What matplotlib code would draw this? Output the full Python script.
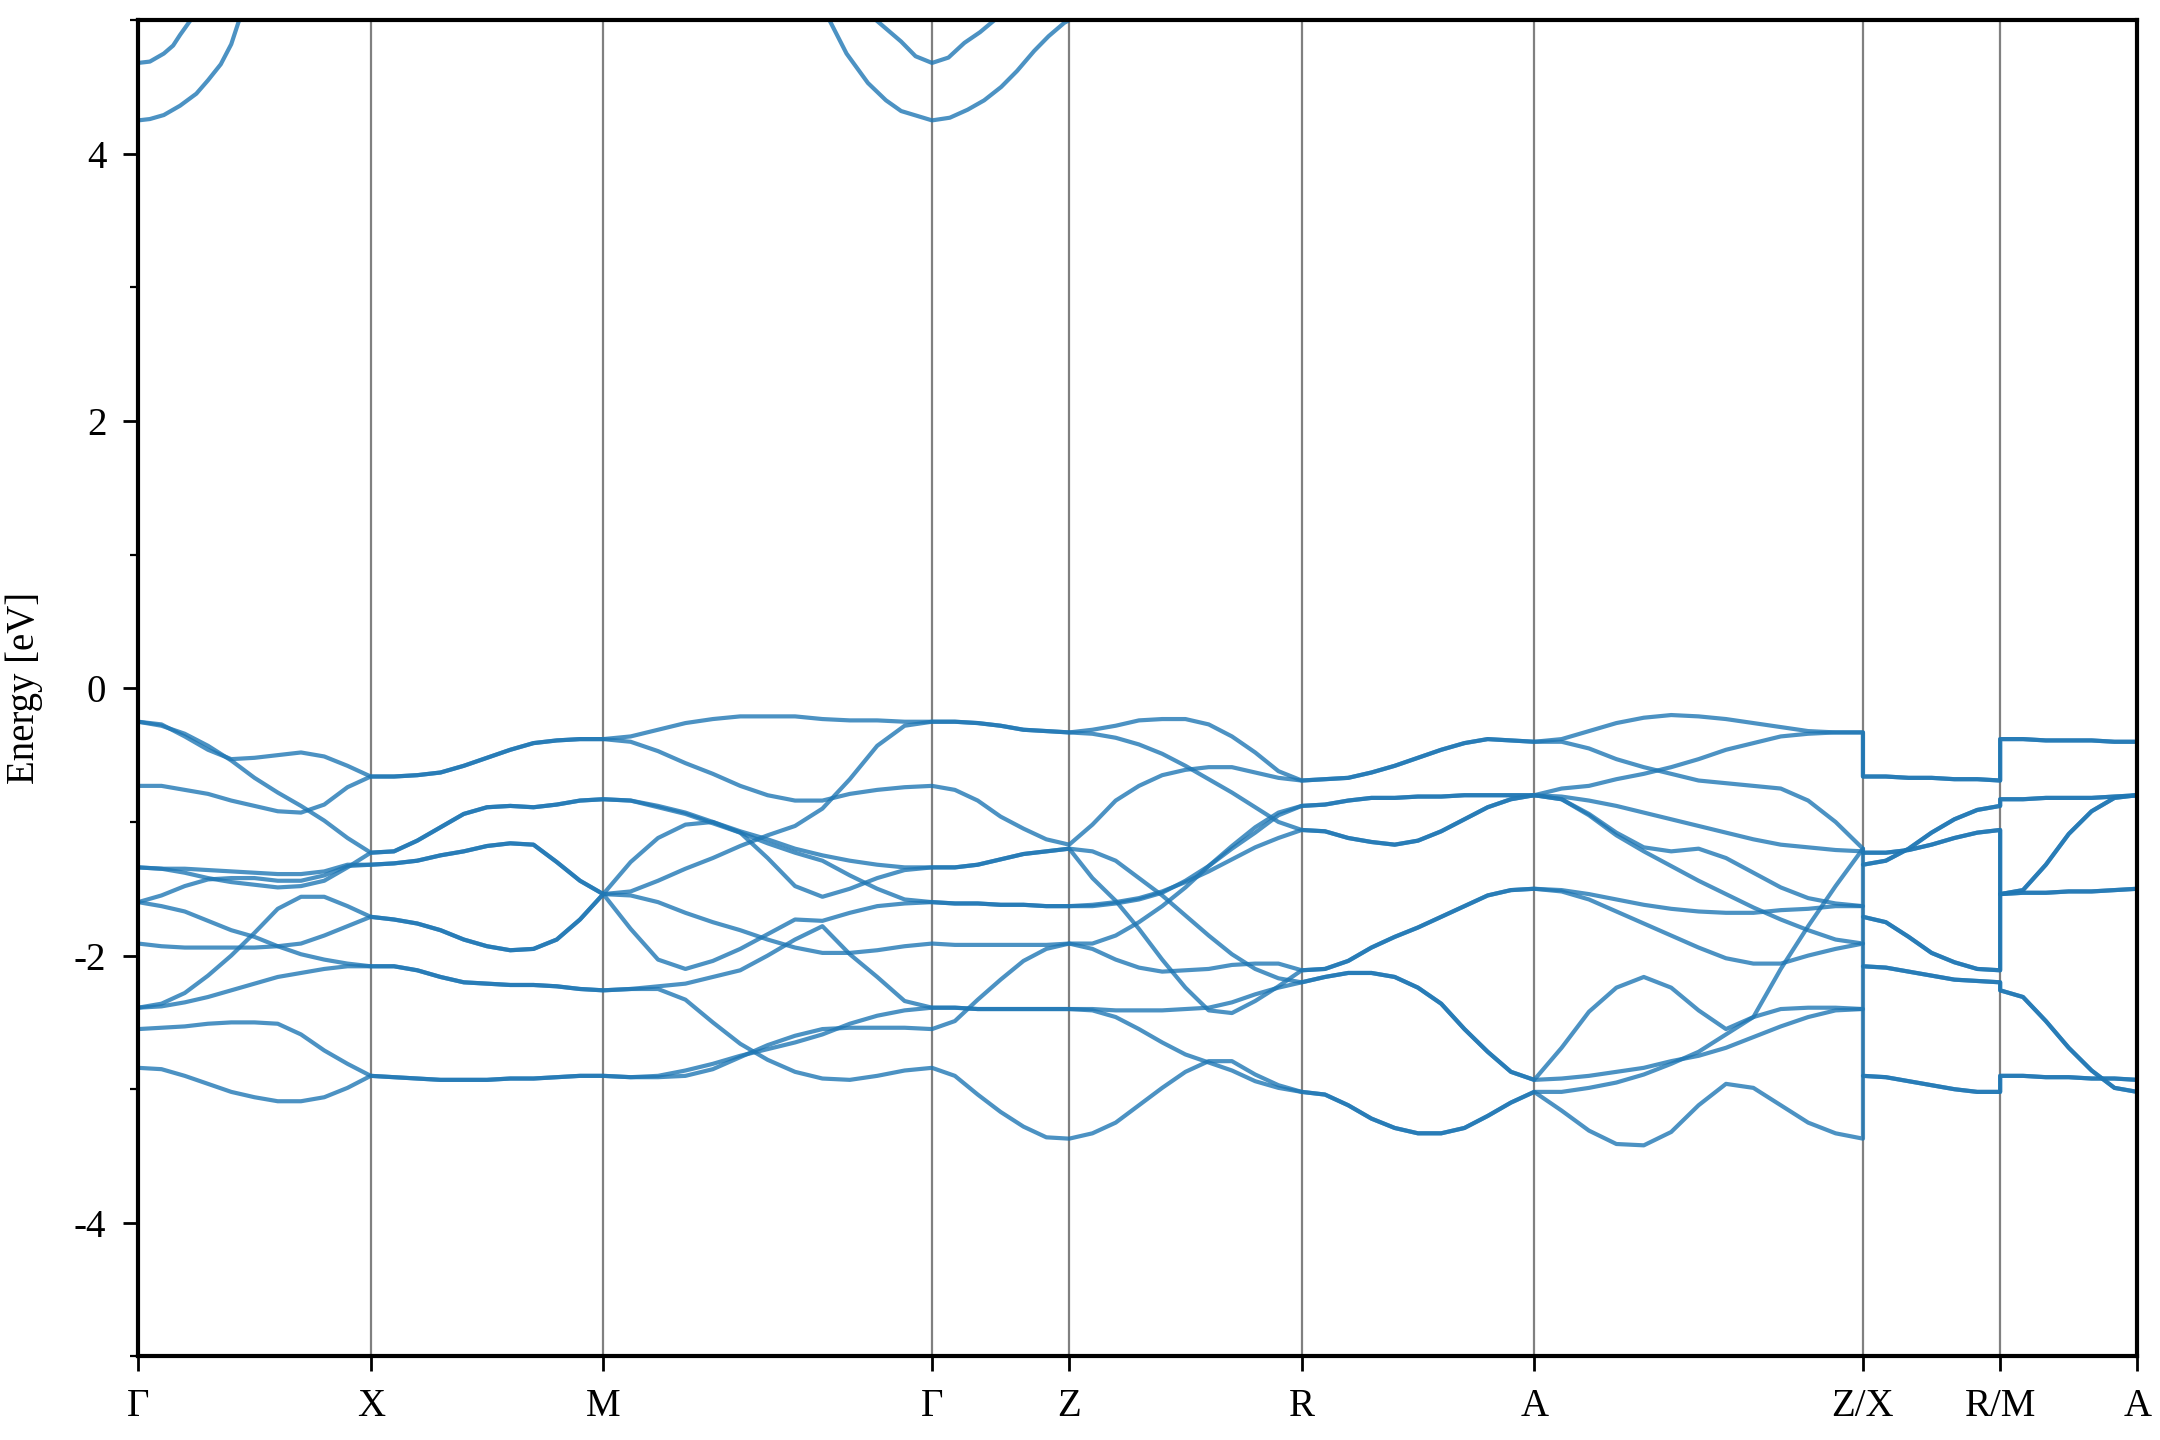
import numpy as np
import matplotlib.pyplot as plt
from matplotlib.ticker import MultipleLocator

plt.rcParams['font.family'] = ['Liberation Serif', 'DejaVu Serif']
plt.rcParams['axes.unicode_minus'] = False

# high-symmetry path
kpt_labels = ['Γ', 'X', 'M', 'Γ', 'Z', 'R', 'A', 'Z/X', 'R/M', 'A']
seg_length = [1.0, 1.0, 1.414, 0.59, 1.0, 1.0, 1.414, 0.59, 0.59]
jump_segments = [7, 8]          # X-R and M-A start after a break in the path
degenerate = {1: 2, 5: 2, 7: 2, 8: 2}   # segments where every line is doubly degenerate

# valence bands (eV), sampled evenly along each segment
e_GX = [
    [-0.25, -0.27, -0.36, -0.46, -0.53, -0.52, -0.50, -0.48, -0.51, -0.58, -0.66],
    [-0.25, -0.28, -0.34, -0.43, -0.54, -0.67, -0.78, -0.88, -0.99, -1.12, -1.23],
    [-0.73, -0.73, -0.76, -0.79, -0.84, -0.88, -0.92, -0.93, -0.87, -0.74, -0.66],
    [-1.34, -1.35, -1.35, -1.36, -1.37, -1.38, -1.39, -1.39, -1.37, -1.32, -1.32],
    [-1.34, -1.35, -1.38, -1.42, -1.45, -1.47, -1.49, -1.48, -1.44, -1.34, -1.23],
    [-1.60, -1.55, -1.48, -1.43, -1.42, -1.42, -1.44, -1.44, -1.40, -1.33, -1.32],
    [-1.60, -1.63, -1.67, -1.74, -1.81, -1.86, -1.93, -1.99, -2.03, -2.06, -2.08],
    [-1.91, -1.93, -1.94, -1.94, -1.94, -1.94, -1.93, -1.91, -1.85, -1.78, -1.71],
    [-2.39, -2.36, -2.28, -2.15, -2.00, -1.83, -1.65, -1.56, -1.56, -1.63, -1.71],
    [-2.39, -2.38, -2.35, -2.31, -2.26, -2.21, -2.16, -2.13, -2.10, -2.08, -2.08],
    [-2.55, -2.54, -2.53, -2.51, -2.50, -2.50, -2.51, -2.59, -2.71, -2.81, -2.90],
    [-2.84, -2.85, -2.90, -2.96, -3.02, -3.06, -3.09, -3.09, -3.06, -2.99, -2.90],
]
e_XM = [
    [-0.66, -0.66, -0.65, -0.63, -0.58, -0.52, -0.46, -0.41, -0.39, -0.38, -0.38],
    [-1.23, -1.22, -1.14, -1.04, -0.94, -0.89, -0.88, -0.89, -0.87, -0.84, -0.83],
    [-1.32, -1.31, -1.29, -1.25, -1.22, -1.18, -1.16, -1.17, -1.30, -1.44, -1.54],
    [-1.71, -1.73, -1.76, -1.81, -1.88, -1.93, -1.96, -1.95, -1.88, -1.73, -1.54],
    [-2.08, -2.08, -2.11, -2.16, -2.20, -2.21, -2.22, -2.22, -2.23, -2.25, -2.26],
    [-2.90, -2.91, -2.92, -2.93, -2.93, -2.93, -2.92, -2.92, -2.91, -2.90, -2.90],
]
e_MG = [
    [-0.38, -0.36, -0.31, -0.26, -0.23, -0.21, -0.21, -0.21, -0.23, -0.24, -0.24, -0.25, -0.25],
    [-0.38, -0.40, -0.47, -0.56, -0.64, -0.73, -0.80, -0.84, -0.84, -0.79, -0.76, -0.74, -0.73],
    [-0.83, -0.84, -0.88, -0.93, -1.00, -1.07, -1.13, -1.20, -1.25, -1.29, -1.32, -1.34, -1.34],
    [-0.83, -0.84, -0.89, -0.94, -1.01, -1.08, -1.16, -1.23, -1.29, -1.40, -1.50, -1.58, -1.60],
    [-1.54, -1.30, -1.12, -1.02, -1.00, -1.08, -1.27, -1.48, -1.56, -1.50, -1.42, -1.36, -1.34],
    [-1.54, -1.52, -1.44, -1.35, -1.27, -1.18, -1.10, -1.03, -0.90, -0.68, -0.43, -0.28, -0.25],
    [-1.54, -1.55, -1.60, -1.68, -1.75, -1.81, -1.88, -1.94, -1.98, -1.98, -1.96, -1.93, -1.91],
    [-1.54, -1.80, -2.03, -2.10, -2.04, -1.95, -1.84, -1.73, -1.74, -1.68, -1.63, -1.61, -1.60],
    [-2.26, -2.25, -2.23, -2.21, -2.16, -2.11, -2.00, -1.88, -1.78, -1.99, -2.16, -2.34, -2.39],
    [-2.26, -2.25, -2.25, -2.33, -2.50, -2.66, -2.78, -2.87, -2.92, -2.93, -2.90, -2.86, -2.84],
    [-2.90, -2.91, -2.91, -2.90, -2.85, -2.76, -2.67, -2.60, -2.55, -2.54, -2.54, -2.54, -2.55],
    [-2.90, -2.91, -2.90, -2.86, -2.81, -2.75, -2.70, -2.65, -2.59, -2.51, -2.45, -2.41, -2.39],
]
e_GZ = [
    [-0.25, -0.25, -0.26, -0.28, -0.31, -0.32, -0.33],
    [-0.25, -0.25, -0.26, -0.28, -0.31, -0.32, -0.33],
    [-0.73, -0.76, -0.84, -0.96, -1.05, -1.13, -1.17],
    [-1.34, -1.34, -1.32, -1.28, -1.24, -1.22, -1.20],
    [-1.34, -1.34, -1.32, -1.28, -1.24, -1.22, -1.20],
    [-1.60, -1.61, -1.61, -1.62, -1.62, -1.63, -1.63],
    [-1.60, -1.61, -1.61, -1.62, -1.62, -1.63, -1.63],
    [-1.91, -1.92, -1.92, -1.92, -1.92, -1.92, -1.91],
    [-2.55, -2.49, -2.33, -2.18, -2.04, -1.95, -1.91],
    [-2.39, -2.39, -2.40, -2.40, -2.40, -2.40, -2.40],
    [-2.39, -2.39, -2.40, -2.40, -2.40, -2.40, -2.40],
    [-2.84, -2.90, -3.04, -3.17, -3.28, -3.36, -3.37],
]
e_ZR = [
    [-0.33, -0.31, -0.28, -0.24, -0.23, -0.23, -0.27, -0.36, -0.48, -0.62, -0.69],
    [-0.33, -0.34, -0.37, -0.42, -0.49, -0.58, -0.68, -0.78, -0.89, -1.00, -1.06],
    [-1.17, -1.02, -0.84, -0.73, -0.65, -0.61, -0.59, -0.59, -0.63, -0.67, -0.69],
    [-1.63, -1.63, -1.61, -1.58, -1.53, -1.44, -1.33, -1.20, -1.08, -0.95, -0.88],
    [-1.63, -1.62, -1.60, -1.57, -1.52, -1.45, -1.37, -1.28, -1.19, -1.12, -1.06],
    [-1.91, -1.91, -1.85, -1.75, -1.63, -1.49, -1.33, -1.18, -1.04, -0.93, -0.88],
    [-1.91, -1.95, -2.03, -2.09, -2.12, -2.11, -2.10, -2.07, -2.06, -2.06, -2.11],
    [-2.40, -2.40, -2.41, -2.41, -2.41, -2.40, -2.39, -2.35, -2.29, -2.24, -2.20],
    [-2.40, -2.41, -2.46, -2.55, -2.65, -2.74, -2.80, -2.86, -2.94, -2.99, -3.02],
    [-1.20, -1.22, -1.29, -1.42, -1.55, -1.70, -1.85, -1.99, -2.10, -2.17, -2.20],
    [-1.20, -1.42, -1.59, -1.80, -2.03, -2.24, -2.41, -2.43, -2.34, -2.23, -2.11],
    [-3.37, -3.33, -3.25, -3.12, -2.99, -2.87, -2.79, -2.79, -2.89, -2.97, -3.02],
]
e_RA = [
    [-0.69, -0.68, -0.67, -0.63, -0.58, -0.52, -0.46, -0.41, -0.38, -0.39, -0.40],
    [-0.88, -0.87, -0.84, -0.82, -0.82, -0.81, -0.81, -0.80, -0.80, -0.80, -0.80],
    [-1.06, -1.07, -1.12, -1.15, -1.17, -1.14, -1.07, -0.98, -0.89, -0.83, -0.80],
    [-2.11, -2.10, -2.04, -1.94, -1.86, -1.79, -1.71, -1.63, -1.55, -1.51, -1.50],
    [-2.20, -2.16, -2.13, -2.13, -2.16, -2.24, -2.36, -2.55, -2.72, -2.87, -2.93],
    [-3.02, -3.04, -3.12, -3.22, -3.29, -3.33, -3.33, -3.29, -3.20, -3.10, -3.02],
]
e_AZ = [
    [-0.40, -0.38, -0.32, -0.26, -0.22, -0.20, -0.21, -0.23, -0.26, -0.29, -0.32, -0.33, -0.33],
    [-0.40, -0.40, -0.45, -0.53, -0.59, -0.64, -0.69, -0.71, -0.73, -0.75, -0.84, -1.00, -1.20],
    [-0.80, -0.75, -0.73, -0.68, -0.64, -0.59, -0.53, -0.46, -0.41, -0.36, -0.34, -0.33, -0.33],
    [-0.80, -0.81, -0.84, -0.88, -0.93, -0.98, -1.03, -1.08, -1.13, -1.17, -1.19, -1.21, -1.22],
    [-0.80, -0.83, -0.94, -1.08, -1.19, -1.22, -1.20, -1.27, -1.38, -1.49, -1.57, -1.61, -1.63],
    [-0.80, -0.83, -0.95, -1.10, -1.22, -1.33, -1.44, -1.54, -1.64, -1.73, -1.81, -1.88, -1.91],
    [-1.50, -1.51, -1.54, -1.58, -1.62, -1.65, -1.67, -1.68, -1.68, -1.66, -1.65, -1.63, -1.63],
    [-1.50, -1.52, -1.58, -1.67, -1.76, -1.85, -1.94, -2.02, -2.06, -2.06, -2.00, -1.95, -1.91],
    [-2.93, -2.69, -2.42, -2.24, -2.16, -2.24, -2.41, -2.55, -2.46, -2.10, -1.78, -1.48, -1.20],
    [-2.93, -2.92, -2.90, -2.87, -2.84, -2.79, -2.75, -2.69, -2.61, -2.53, -2.46, -2.41, -2.40],
    [-3.02, -3.02, -2.99, -2.95, -2.89, -2.81, -2.72, -2.59, -2.46, -2.40, -2.39, -2.39, -2.40],
    [-3.02, -3.16, -3.31, -3.41, -3.42, -3.32, -3.12, -2.96, -2.99, -3.12, -3.25, -3.33, -3.37],
]
e_XR = [
    [-0.66, -0.66, -0.67, -0.67, -0.68, -0.68, -0.69],
    [-1.32, -1.29, -1.20, -1.08, -0.98, -0.91, -0.88],
    [-1.23, -1.23, -1.21, -1.17, -1.12, -1.08, -1.06],
    [-1.71, -1.75, -1.86, -1.98, -2.05, -2.10, -2.11],
    [-2.08, -2.09, -2.12, -2.15, -2.18, -2.19, -2.20],
    [-2.90, -2.91, -2.94, -2.97, -3.00, -3.02, -3.02],
]
e_MA = [
    [-0.38, -0.38, -0.39, -0.39, -0.39, -0.40, -0.40],
    [-0.83, -0.83, -0.82, -0.82, -0.82, -0.81, -0.80],
    [-1.54, -1.53, -1.53, -1.52, -1.52, -1.51, -1.50],
    [-1.54, -1.51, -1.32, -1.09, -0.92, -0.82, -0.80],
    [-2.26, -2.31, -2.49, -2.69, -2.86, -2.99, -3.02],
    [-2.90, -2.90, -2.91, -2.91, -2.92, -2.92, -2.93],
]

# conduction band pieces: (segment, fraction along segment, energy in eV)
cond_pieces = [
    [(0, [0, .05, .11, .15, .18, .225], [4.68, 4.69, 4.75, 4.81, 4.89, 5.0])],
    [(0, [0, .05, .11, .18, .25, .30, .355, .40, .434],
      [4.25, 4.26, 4.29, 4.36, 4.45, 4.55, 4.67, 4.82, 5.0])],
    [(2, [.83, .906, .95, 1], [5.0, 4.84, 4.73, 4.68]),
     (3, [0, .12, .236, .35, .455], [4.68, 4.72, 4.83, 4.91, 5.0])],
    [(2, [.688, .74, .805, .86, .906, 1], [5.0, 4.75, 4.53, 4.40, 4.32, 4.25]),
     (3, [0, .13, .26, .38, .504, .62, .745, .85, .964, 1],
      [4.25, 4.27, 4.33, 4.40, 4.50, 4.62, 4.77, 4.88, 4.98, 5.0])],
]

segments = [e_GX, e_XM, e_MG, e_GZ, e_ZR, e_RA, e_AZ, e_XR, e_MA]
nodes = np.concatenate([[0.0], np.cumsum(seg_length)])

# join segments band by band (bands sorted by energy at every node)
k_all, e_all = None, None
for i, seg in enumerate(segments):
    e = np.repeat(np.array(seg), degenerate.get(i, 1), axis=0)
    e = e[np.argsort(e[:, 0], kind='stable')]
    k = nodes[i] + np.linspace(0, 1, e.shape[1]) * seg_length[i]
    if e_all is None:
        k_all, e_all = k, e
        continue
    e_all = e_all[np.argsort(e_all[:, -1], kind='stable')]
    if i not in jump_segments:
        k, e = k[1:], e[:, 1:]
    k_all = np.concatenate([k_all, k])
    e_all = np.concatenate([e_all, e], axis=1)

fig = plt.figure(figsize=(10.8, 7.2), dpi=200)
ax = fig.add_axes([0.064, 0.058, 0.9255, 0.928])

for x in nodes[1:-1]:
    ax.axvline(x, color='#808080', lw=0.8, zorder=1)

band_color = '#1f77b4'
for row in e_all:
    ax.plot(k_all, row, color=band_color, lw=1.5, alpha=0.8, zorder=2,
            solid_joinstyle='round')

for piece in cond_pieces:
    kk, ee = [], []
    for s, frac, en in piece:
        kk += list(nodes[s] + np.array(frac) * seg_length[s])
        ee += en
    ax.plot(kk, ee, color=band_color, lw=1.5, alpha=0.8, zorder=2,
            solid_joinstyle='round')

ax.set_xlim(nodes[0], nodes[-1])
ax.set_ylim(-5, 5)
ax.set_xticks(nodes)
ax.set_xticklabels(kpt_labels)
ax.set_yticks([-4, -2, 0, 2, 4])
ax.yaxis.set_minor_locator(MultipleLocator(1))
ax.tick_params(axis='both', which='major', direction='out', length=5.5, width=1.0,
               labelsize=14, pad=6)
ax.tick_params(axis='y', which='minor', direction='out', length=3, width=0.8)
for sp in ax.spines.values():
    sp.set_linewidth(1.5)
ax.set_ylabel('Energy [eV]', fontsize=14, labelpad=11)

plt.savefig('out.png', dpi=200)
